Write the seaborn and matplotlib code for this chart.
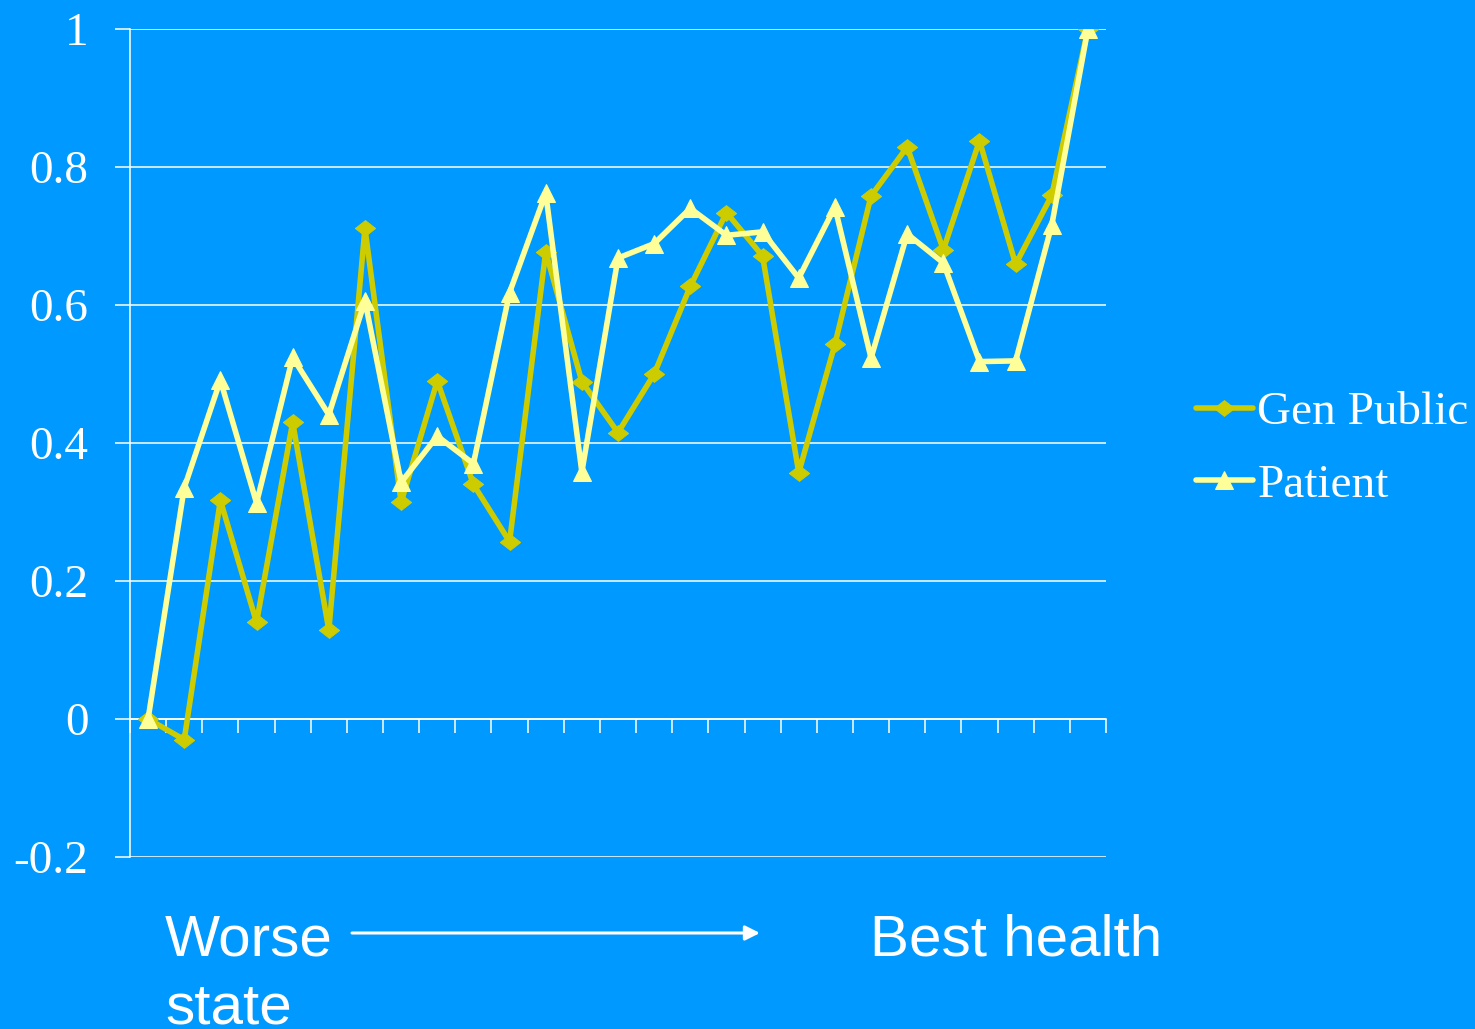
import numpy as np
import pandas as pd
import matplotlib
matplotlib.use("Agg")
import matplotlib.pyplot as plt
import seaborn as sns

# Health states ordered from worse to best
states = list(range(1, 28))

gen_public = [0.0, -0.03, 0.317, 0.14, 0.43, 0.129, 0.711, 0.314, 0.49, 0.34,
              0.257, 0.677, 0.489, 0.415, 0.5, 0.627, 0.734, 0.671, 0.357, 0.543,
              0.758, 0.829, 0.68, 0.838, 0.659, 0.759, 1.0]

patient = [0.0, 0.335, 0.491, 0.313, 0.524, 0.441, 0.606, 0.343, 0.41, 0.37,
           0.618, 0.762, 0.358, 0.668, 0.689, 0.74, 0.701, 0.706, 0.639, 0.742,
           0.523, 0.703, 0.661, 0.518, 0.519, 0.716, 1.0]

series_names = ["Gen Public", "Patient"]
y_ticks = [-0.2, 0, 0.2, 0.4, 0.6, 0.8, 1]
y_tick_labels = ["-0.2", "0", "0.2", "0.4", "0.6", "0.8", "1"]

BG = "#0099FF"
GEN_COLOR = "#CCCC00"
PAT_COLOR = "#FFFF99"

sns.set_style("white")
plt.rcParams["font.family"] = ["Liberation Serif", "DejaVu Serif"]

fig = plt.figure(figsize=(14.75, 10.29), dpi=100, facecolor=BG)
ax = fig.add_axes([130 / 1475, 1 - 857 / 1029, 976 / 1475, (857 - 29) / 1029])
ax.set_facecolor(BG)

df = pd.DataFrame({"state": states, "gen": gen_public, "pat": patient})

# wide, flat diamond
diamond = [(-1, 0), (0, 0.78), (1, 0), (0, -0.78), (-1, 0)]

sns.lineplot(data=df, x="state", y="gen", ax=ax, color=GEN_COLOR, linewidth=4.0,
             marker=diamond, markersize=14.5, markeredgecolor=GEN_COLOR,
             markerfacecolor=GEN_COLOR, label=series_names[0], zorder=3)
sns.lineplot(data=df, x="state", y="pat", ax=ax, color=PAT_COLOR, linewidth=4.0,
             marker="^", markersize=13, markeredgecolor=PAT_COLOR,
             markerfacecolor=PAT_COLOR, label=series_names[1], zorder=4)

ax.set_xlim(0.5, 27.5)
ax.set_ylim(-0.2, 1.0)
ax.set_xlabel("")
ax.set_ylabel("")

# y axis: white gridlines, outward ticks, serif labels
ax.set_yticks(y_ticks)
ax.set_yticklabels(y_tick_labels)
ax.yaxis.grid(True, color="white", linewidth=1.1)
ax.xaxis.grid(False)
ax.tick_params(axis="y", colors="white", length=10.8, width=1.1, pad=19,
               labelsize=34, labelcolor="white", left=True)

# x axis sits on zero with ticks between categories
ax.set_xticks(np.arange(0.5, 28, 1))
ax.set_xticklabels([])
ax.tick_params(axis="x", colors="white", direction="out", length=10, width=1.1,
               bottom=True)
ax.spines["bottom"].set_position(("data", 0))
ax.spines["bottom"].set_color("white")
ax.spines["bottom"].set_linewidth(1.1)
ax.spines["left"].set_color("white")
ax.spines["left"].set_linewidth(1.1)
ax.spines["top"].set_visible(False)
ax.spines["right"].set_visible(False)
ax.set_axisbelow(True)

leg = ax.legend(loc="center left", bbox_to_anchor=(1196 / 1475, 1 - 449 / 1029),
                bbox_transform=fig.transFigure, frameon=False, fontsize=34,
                handlelength=1.2, handletextpad=0.1, labelspacing=0.62,
                borderpad=0, borderaxespad=0)
for t in leg.get_texts():
    t.set_color("white")

# direction annotation beneath the plot
sans = ["Liberation Sans", "DejaVu Sans"]
fig.text(165 / 1475, 1 - 955 / 1029, "Worse", color="white", fontsize=42,
         family=sans, ha="left", va="baseline")
fig.text(165 / 1475, 1 - 1023 / 1029, "state", color="white", fontsize=42,
         family=sans, ha="left", va="baseline")
fig.text(870 / 1475, 1 - 955 / 1029, "Best health", color="white", fontsize=42,
         family=sans, ha="left", va="baseline")
ax.annotate("", xy=(760 / 1475, 1 - 933 / 1029), xytext=(352 / 1475, 1 - 933 / 1029),
            xycoords="figure fraction", textcoords="figure fraction",
            arrowprops=dict(arrowstyle="-|>", color="white", lw=2.2,
                            mutation_scale=22, shrinkA=0, shrinkB=0),
            annotation_clip=False)

fig.savefig("out.png", dpi=100, facecolor=BG)
